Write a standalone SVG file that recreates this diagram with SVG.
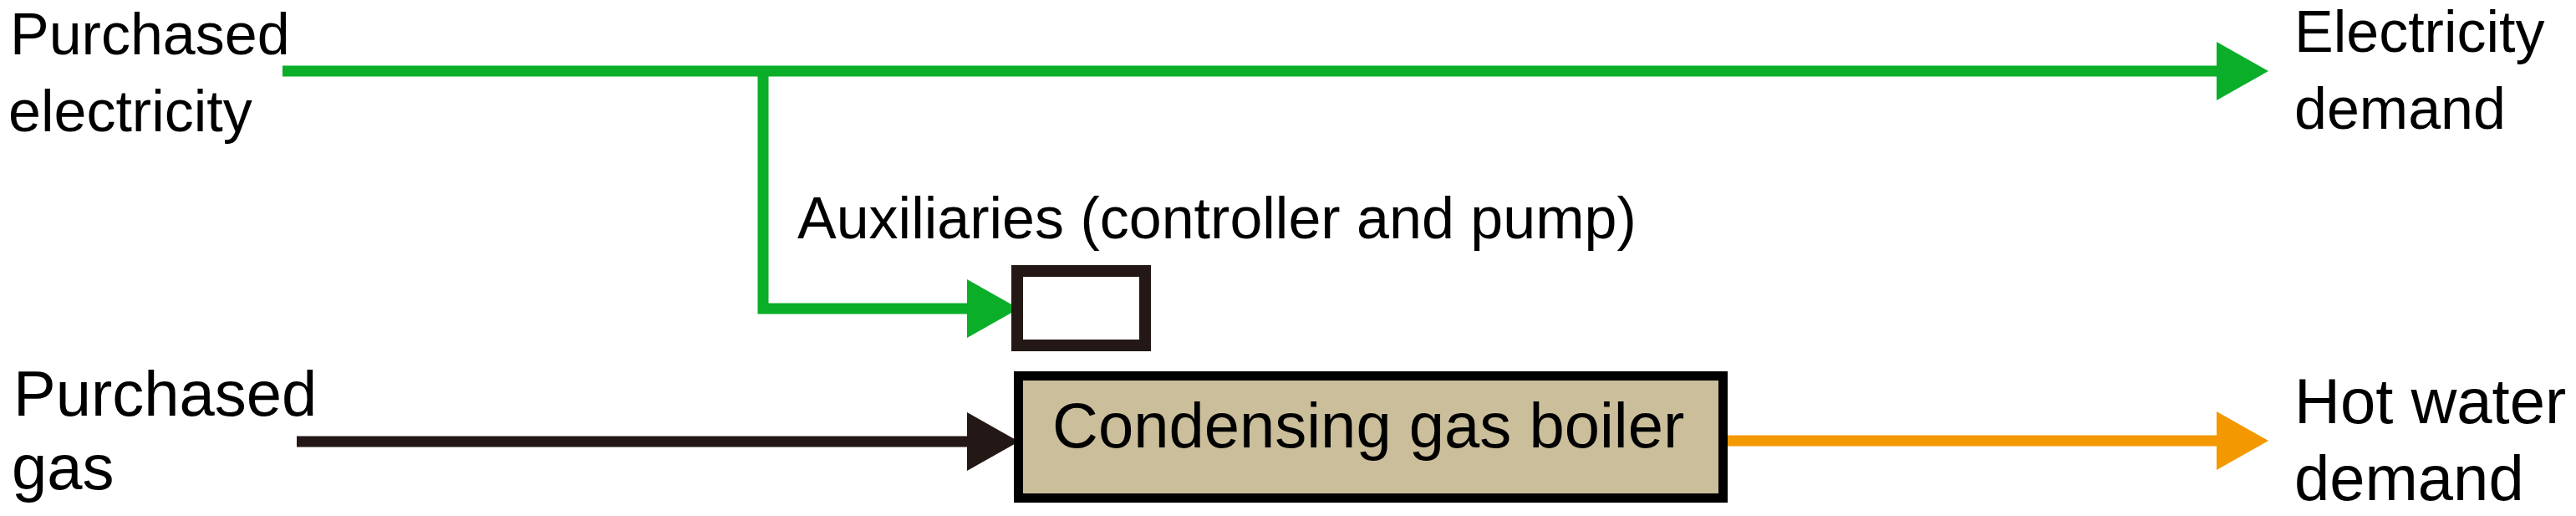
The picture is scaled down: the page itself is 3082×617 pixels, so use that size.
<svg xmlns="http://www.w3.org/2000/svg" width="3082" height="617" viewBox="0 0 3082 617">
<style>
text{font-family:"Liberation Sans",Arial,sans-serif;fill:#000}
.s{font-size:70px}
.b{font-size:76px}
.ln{fill:none;stroke-width:13;stroke-linejoin:miter}
.g{stroke:#0AAE29}
.k{stroke:#231815}
.o{stroke:#F39800}
</style>
<defs>
<marker id="ag" markerUnits="userSpaceOnUse" viewBox="0 0 62 70" markerWidth="62" markerHeight="70" refX="0" refY="35" orient="auto"><path d="M0,0 L62,35 L0,70 Z" fill="#0AAE29"/></marker>
<marker id="ak" markerUnits="userSpaceOnUse" viewBox="0 0 62 70" markerWidth="62" markerHeight="70" refX="0" refY="35" orient="auto"><path d="M0,0 L62,35 L0,70 Z" fill="#231815"/></marker>
<marker id="ao" markerUnits="userSpaceOnUse" viewBox="0 0 62 70" markerWidth="62" markerHeight="70" refX="0" refY="35" orient="auto"><path d="M0,0 L62,35 L0,70 Z" fill="#F39800"/></marker>
</defs>
<rect width="3082" height="617" fill="#fff"/>
<g id="connectors">
<path class="ln g" d="M338,85 H2652" marker-end="url(#ag)"/>
<path class="ln g" d="M913,80 V369 H1157" marker-end="url(#ag)"/>
<path class="ln k" d="M355,528 H1157" marker-end="url(#ak)"/>
<path class="ln o" d="M2067,527 H2652" marker-end="url(#ao)"/>
</g>
<g id="purchased-electricity"><text class="s" x="12" y="65">Purchased</text><text class="s" x="10" y="157">electricity</text></g>
<g id="purchased-gas"><text class="b" x="16" y="497">Purchased</text><text class="b" x="14" y="585">gas</text></g>
<g id="electricity-demand"><text class="s" x="2745" y="62">Electricity</text><text class="s" x="2745" y="154">demand</text></g>
<g id="hot-water-demand"><text class="b" x="2745" y="506">Hot water</text><text class="b" x="2745" y="598">demand</text></g>
<g id="auxiliaries"><text class="s" x="954" y="285">Auxiliaries (controller and pump)</text><rect x="1217" y="324" width="153" height="89" fill="#fff" stroke="#231815" stroke-width="14"/></g>
<g id="boiler"><rect x="1218.5" y="449.5" width="843" height="146" fill="#CBBE9B" stroke="#000" stroke-width="11"/><text class="b" x="1259" y="535">Condensing gas boiler</text></g>
</svg>
